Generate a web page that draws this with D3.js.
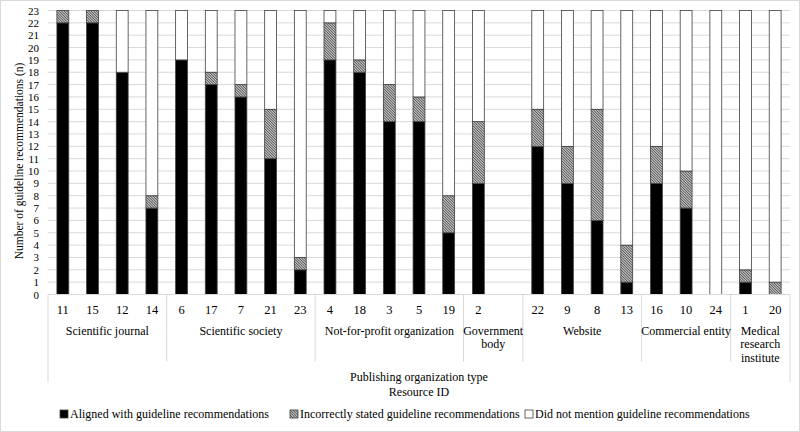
<!DOCTYPE html>
<html>
<head>
<meta charset="utf-8">
<script src="https://cdn.jsdelivr.net/npm/d3@7"></script>
</head>
<body style="margin:0; background:#fff">
<script>
// Resource IDs in chart order ("" = empty slot in the Government body group)
const resourceIds = ["11", "15", "12", "14", "6", "17", "7", "21", "23", "4", "18", "3", "5", "19", "2", "", "22", "9", "8", "13", "16", "10", "24", "1", "20"];
const aligned      = [22, 22, 18, 7, 19, 17, 16, 11, 2, 19, 18, 14, 14, 5, 9, null, 12, 9, 6, 1, 9, 7, 0, 1, 0];
const incorrect    = [1, 1, 0, 1, 0, 1, 1, 4, 1, 3, 1, 3, 2, 3, 5, null, 3, 3, 9, 3, 3, 3, 0, 1, 1];
const notMentioned = [0, 0, 5, 15, 4, 5, 6, 8, 20, 1, 4, 6, 7, 15, 9, null, 8, 11, 8, 19, 11, 13, 23, 21, 22];

// Publishing organization types and how many slots each spans
const orgTypeLabels = [["Scientific journal"], ["Scientific society"], ["Not-for-profit organization"], ["Government", "body"], ["Website"], ["Commercial entity"], ["Medical", "research", "institute"]];
const orgTypeSizes = [4, 5, 5, 2, 4, 3, 2];

const seriesKeys = ["aligned", "incorrect", "notMentioned"];
const seriesNames = ["Aligned with guideline recommendations", "Incorrectly stated guideline recommendations", "Did not mention guideline recommendations"];
const yTicks = d3.range(0, 24);

const chartW = 800, chartH = 432;
const margin = { left: 48, right: 10, top: 10.5, bottom: 137.5 };
const serif = "Liberation Serif";

const rows = resourceIds.map((id, i) => ({
	slot: i,
	id: id,
	aligned: aligned[i],
	incorrect: incorrect[i],
	notMentioned: notMentioned[i],
}));

const svg = d3.select("body").append("svg")
	.attr("width", chartW).attr("height", chartH)
	.attr("font-family", serif)
	.style("display", "block");

// outer border
svg.append("rect")
	.attr("x", 0.5).attr("y", 0.5)
	.attr("width", chartW - 1).attr("height", chartH - 1)
	.attr("fill", "#fff").attr("stroke", "#d9d9d9");

const xScale = d3.scaleBand()
	.domain(rows.map((d) => d.slot))
	.range([margin.left, chartW - margin.right])
	.paddingInner(0.6)
	.paddingOuter(0.3);

const yScale = d3.scaleLinear().domain([0, 23]).range([chartH - margin.bottom, margin.top]);

// gridlines
svg.append("g")
	.selectAll("line")
	.data(yTicks.filter((t) => t > 0))
	.enter()
	.append("line")
	.attr("x1", margin.left).attr("x2", chartW - margin.right)
	.attr("y1", (d) => yScale(d)).attr("y2", (d) => yScale(d))
	.attr("stroke", "#d9d9d9").attr("stroke-width", 1);

// y axis labels
const yAxis = svg.append("g")
	.attr("transform", `translate(${margin.left}, 0)`)
	.call(d3.axisLeft(yScale).tickValues(yTicks).tickSize(0).tickPadding(9));
yAxis.attr("font-family", serif).attr("font-size", 11);
yAxis.select(".domain").remove();
yAxis.selectAll("text").attr("fill", "#000").attr("font-family", serif).attr("font-size", 11);

// y axis title
svg.append("text")
	.attr("transform", "translate(19, 161) rotate(-90)")
	.attr("text-anchor", "middle")
	.attr("dy", "0.35em")
	.attr("font-family", serif).attr("font-size", 11.5)
	.text("Number of guideline recommendations (n)");

// stacked bars; the hatched series is drawn as grey with diagonal strokes
const stacked = d3.stack().keys(seriesKeys)(rows.filter((d) => d.id !== ""));
const fills = { aligned: "#000", incorrect: "#bdbdbd", notMentioned: "#fff" };

const layers = svg.append("g")
	.selectAll("g")
	.data(stacked)
	.enter()
	.append("g");

layers.selectAll("rect")
	.data((s) => s.filter((d) => d[1] > d[0]).map((d) => Object.assign(d, { key: s.key })))
	.enter()
	.append("rect")
	.attr("x", (d) => xScale(d.data.slot))
	.attr("y", (d) => yScale(d[1]))
	.attr("width", xScale.bandwidth())
	.attr("height", (d) => yScale(d[0]) - yScale(d[1]))
	.attr("fill", (d) => fills[d.key])
	.attr("stroke", "#404040")
	.attr("stroke-width", 0.8);

// diagonal hatching clipped to each hatched segment
function hatchPath(x0, y0, w, h, gap) {
	let p = "";
	for (let k = -w; k < h; k += gap) {
		const ya = y0 + k, yb = y0 + k + w;
		const sa = Math.max(ya, y0), sb = Math.min(yb, y0 + h);
		if (sb <= sa) continue;
		p += `M${x0 + (sa - ya)},${sa}L${x0 + (sb - ya)},${sb}`;
	}
	return p;
}
svg.append("g")
	.selectAll("path")
	.data(stacked[1].filter((d) => d[1] > d[0]))
	.enter()
	.append("path")
	.attr("d", (d) => hatchPath(xScale(d.data.slot), yScale(d[1]), xScale.bandwidth(), yScale(d[0]) - yScale(d[1]), 2.6))
	.attr("stroke", "#333")
	.attr("stroke-width", 0.8)
	.attr("fill", "none");

// category axis: baseline
const base = yScale(0);
svg.append("line")
	.attr("x1", margin.left).attr("x2", chartW - margin.right)
	.attr("y1", base).attr("y2", base)
	.attr("stroke", "#d9d9d9");

// resource ID labels
svg.append("g")
	.selectAll("text")
	.data(rows)
	.enter()
	.append("text")
	.attr("x", (d) => xScale(d.slot) + xScale.bandwidth() / 2)
	.attr("y", base + 19)
	.attr("text-anchor", "middle")
	.attr("font-family", serif).attr("font-size", 12.5)
	.text((d) => d.id);

// group separators and labels
const step = xScale.step();
const x0 = xScale.range()[0];
let start = 0;
const bounds = [0];
orgTypeSizes.forEach((n) => { start += n; bounds.push(start); });

svg.append("g")
	.selectAll("line")
	.data(bounds)
	.enter()
	.append("line")
	.attr("x1", (b) => x0 + b * step).attr("x2", (b) => x0 + b * step)
	.attr("y1", base)
	.attr("y2", (b, i) => (i === 0 || i === bounds.length - 1 ? base + 88 : base + 67))
	.attr("stroke", "#d9d9d9");

const groupText = svg.append("g")
	.selectAll("text")
	.data(orgTypeLabels)
	.enter()
	.append("text")
	.attr("x", (d, i) => x0 + ((bounds[i] + bounds[i + 1]) / 2) * step)
	.attr("y", base + 40)
	.attr("text-anchor", "middle")
	.attr("font-family", serif).attr("font-size", 12);
groupText.selectAll("tspan")
	.data((d) => d)
	.enter()
	.append("tspan")
	.attr("x", function () { return this.parentNode.getAttribute("x"); })
	.attr("dy", (d, i) => (i === 0 ? 0 : 13.5))
	.text((d) => d);

// x axis title
const xMid = (xScale.range()[0] + xScale.range()[1]) / 2;
svg.append("text")
	.attr("x", xMid).attr("y", base + 86)
	.attr("text-anchor", "middle")
	.attr("font-family", serif).attr("font-size", 12)
	.text("Publishing organization type");
svg.append("text")
	.attr("x", xMid).attr("y", base + 101)
	.attr("text-anchor", "middle")
	.attr("font-family", serif).attr("font-size", 12)
	.text("Resource ID");

// legend
const legendX = [60, 290, 525];
const legend = svg.append("g")
	.selectAll("g")
	.data(seriesKeys)
	.enter()
	.append("g")
	.attr("transform", (d, i) => `translate(${legendX[i]}, 418)`);
legend.append("rect")
	.attr("x", 0).attr("y", -8)
	.attr("width", 8).attr("height", 8)
	.attr("fill", (d) => fills[d])
	.attr("stroke", "#404040")
	.attr("stroke-width", 0.8);
legend.filter((d) => d === "incorrect")
	.append("path")
	.attr("d", hatchPath(0, -8, 8, 8, 2.6))
	.attr("stroke", "#333").attr("stroke-width", 0.8).attr("fill", "none");
legend.append("text")
	.attr("x", 10).attr("y", 0)
	.attr("font-family", serif).attr("font-size", 12)
	.text((d, i) => seriesNames[i]);
</script>
</body>
</html>
